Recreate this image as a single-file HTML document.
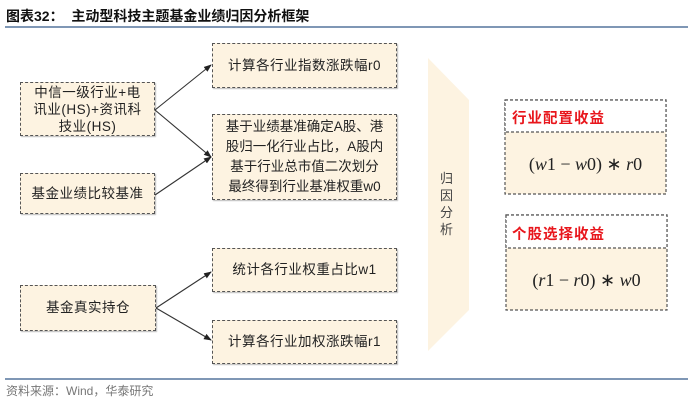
<!DOCTYPE html>
<html><head><meta charset="utf-8"><style>
body{margin:0;width:700px;height:409px;background:#fff;position:relative;overflow:hidden;font-family:"Liberation Sans","Noto Sans CJK SC",sans-serif;}
.b{position:absolute;box-sizing:border-box;border:1.3px dashed #555;background:#fdf3e1;display:flex;align-items:center;justify-content:center;text-align:center;font-size:13.5px;color:#222;line-height:20px;box-shadow:1px 1px 1px #bbb;letter-spacing:0.5px;}
.t{position:absolute;}
</style></head><body>
<div class="t" style="left:6px;top:6px;font-size:14px;font-weight:bold;color:#111;">图表32：&nbsp;&nbsp;主动型科技主题基金业绩归因分析框架</div>
<div style="position:absolute;left:5px;top:26px;width:683px;height:2px;background:#7f97b5"></div>
<div class="b" style="left:212px;top:43px;width:185px;height:45px;">计算各行业指数涨跌幅r0</div>
<div class="b" style="left:20px;top:82px;width:135px;height:54px;line-height:17px;">中信一级行业+电<br>讯业(HS)+资讯科<br>技业(HS)</div>
<div class="b" style="left:212px;top:114px;width:185px;height:86px;letter-spacing:0;">基于业绩基准确定A股、港<br>股归一化行业占比，A股内<br>基于行业总市值二次划分<br>最终得到行业基准权重w0</div>
<div class="b" style="left:20px;top:173px;width:135px;height:41px;">基金业绩比较基准</div>
<div class="b" style="left:212px;top:248px;width:185px;height:44px;">统计各行业权重占比w1</div>
<div class="b" style="left:20px;top:285px;width:136px;height:46px;">基金真实持仓</div>
<div class="b" style="left:212px;top:320px;width:185px;height:44px;">计算各行业加权涨跌幅r1</div>
<svg style="position:absolute;left:0;top:0" width="700" height="409">
<defs><marker id="a" markerWidth="8" markerHeight="8" refX="7" refY="4" orient="auto" markerUnits="userSpaceOnUse"><path d="M0,1L8,4L0,7z" fill="#222"/></marker></defs>
<g stroke="#333" stroke-width="1.1" marker-end="url(#a)">
<line x1="155" y1="110" x2="211" y2="65"/>
<line x1="155" y1="110" x2="211" y2="157"/>
<line x1="155" y1="195" x2="211" y2="157"/>
<line x1="156" y1="308" x2="211" y2="272"/>
<line x1="156" y1="308" x2="211" y2="340"/>
</g>
<polygon points="428,58 469,100 469,310 428,351" fill="#fdf3e1"/>
<g stroke="#555" stroke-width="1.2" stroke-dasharray="3,2" fill="none">
<rect x="505" y="100" width="161" height="94" fill="#fdf3e1"/>
<rect x="505" y="100" width="161" height="32" fill="#fff"/>
<rect x="506" y="215" width="161" height="95" fill="#fdf3e1"/>
<rect x="506" y="215" width="161" height="33" fill="#fff"/>
</g>
</svg>
<div class="t" style="left:440px;top:170px;width:14px;font-size:13px;line-height:17px;color:#444;">归<br>因<br>分<br>析</div>
<div class="t" style="left:512px;top:107px;font-size:14.5px;font-weight:bold;color:#e8161c;letter-spacing:1px;">行业配置收益</div>
<div class="t" style="left:512px;top:223px;font-size:14.5px;font-weight:bold;color:#e8161c;letter-spacing:1px;">个股选择收益</div>
<div class="t" style="left:505px;top:154px;width:161px;text-align:center;font-family:'Liberation Serif',serif;font-size:18px;color:#222;">(<i>w</i>1 − <i>w</i>0) ∗ <i>r</i>0</div>
<div class="t" style="left:506px;top:270px;width:161px;text-align:center;font-family:'Liberation Serif',serif;font-size:18px;color:#222;">(<i>r</i>1 − <i>r</i>0) ∗ <i>w</i>0</div>
<div style="position:absolute;left:5px;top:378px;width:683px;height:2px;background:#7f97b5"></div>
<div class="t" style="left:6px;top:382px;font-size:12px;color:#777;">资料来源：Wind，华泰研究</div>
</body></html>
